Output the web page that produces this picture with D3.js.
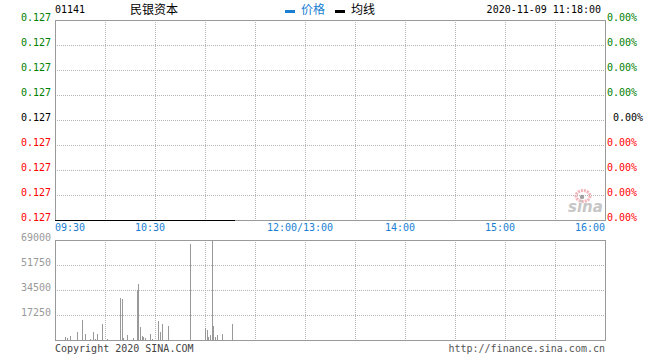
<!DOCTYPE html>
<html>
<head>
<meta charset="utf-8">
<script src="https://cdn.jsdelivr.net/npm/d3@7"></script>
<style>
    body { margin: 0; background: #fff; }
    svg text { font-family: "DejaVu Sans Mono", monospace; font-size: 10px; }
</style>
</head>
<body>
<svg id="chart" width="660" height="360"></svg>
<script>
// header
const STOCK_CODE = '01141';
const STOCK_NAME = '民银资本';
const TIME_STAMP = '2020-11-09 11:18:00';

// left / right tick labels, top to bottom
let priceLabels = ['0.127', '0.127', '0.127', '0.127', '0.127', '0.127', '0.127', '0.127', '0.127'];
let pctLabels = ['0.00%', '0.00%', '0.00%', '0.00%', '0.00%', '0.00%', '0.00%', '0.00%', '0.00%'];
let timeLabels = ['09:30', '10:30', '12:00/13:00', '14:00', '15:00', '16:00'];
let timeLabelAt = ['09:30', '10:30', '12:00', '14:00', '15:00', '16:00'];
let gridTimes = ['10:00', '10:30', '11:00', '11:30', '12:00', '13:30', '14:00', '14:30', '15:00', '15:30'];
let volTicks = [17250, 34500, 51750, 69000];

// price and average line (flat all morning)
let priceTimes = ['09:30', '11:18'];
let priceValues = [0.127, 0.127];
let avgValues = [0.127, 0.127];

// minute volumes
let volTimes = ['09:36', '09:37', '09:39', '09:43', '09:46', '09:48', '09:51', '09:53', '09:54', '09:55',
    '09:58', '10:01', '10:09', '10:10', '10:11', '10:13', '10:17', '10:19', '10:20', '10:21',
    '10:22', '10:23', '10:24', '10:27', '10:28', '10:32', '10:33', '10:34', '10:38', '10:51',
    '11:00', '11:01', '11:02', '11:03', '11:04', '11:05', '11:06', '11:07', '11:10', '11:16'];
let volValues = [2000, 1400, 2800, 5500, 13800, 4100, 700, 5500, 700, 4100,
    11000, 700, 29000, 28300, 1400, 3500, 1400, 34500, 38600, 9000,
    2800, 2100, 1400, 4100, 700, 13100, 5500, 11000, 9700, 66200,
    8300, 6900, 2100, 3500, 68300, 9700, 2100, 3500, 4100, 11000];

const GRID = '#b4b4b4';
const BORDER = '#9a9a9a';
const BLUE = '#1a7fd2';

function toMin(t) {
    let p = t.split(':');
    return +p[0] * 60 + +p[1];
}

let svg = d3.select('#chart');
let left = 55, right = 605;

// lunch break collapses to one point
let x = d3.scaleLinear()
    .domain([toMin('09:30'), toMin('12:00'), toMin('13:00'), toMin('16:00')])
    .range([left, 305, 305, right]);
let yGrid = d3.scaleLinear().domain([0, priceLabels.length - 1]).range([20, 220]);
let yPrice = d3.scaleLinear().domain([0.127, 0.128]).range([220, 20]);
let yVol = d3.scaleLinear().domain([0, 69000]).range([340, 240]);

let px = (v) => Math.round(v) + 0.5;

// ---- header
svg.append('text').attr('x', 55).attr('y', 13).attr('fill', '#000').text(STOCK_CODE);
svg.append('text').attr('x', 130).attr('y', 14)
    .style('font-family', '"Noto Sans CJK SC", sans-serif').style('font-size', '12px')
    .attr('fill', '#000').text(STOCK_NAME);
svg.append('rect').attr('x', 285).attr('y', 10).attr('width', 10).attr('height', 3).attr('fill', BLUE);
svg.append('text').attr('x', 301).attr('y', 14)
    .style('font-family', '"Noto Sans CJK SC", sans-serif').style('font-size', '12px')
    .attr('fill', BLUE).text('价格');
svg.append('rect').attr('x', 335).attr('y', 10).attr('width', 10).attr('height', 3).attr('fill', '#000');
svg.append('text').attr('x', 351).attr('y', 14)
    .style('font-family', '"Noto Sans CJK SC", sans-serif').style('font-size', '12px')
    .attr('fill', '#000').text('均线');
svg.append('text').attr('x', 601).attr('y', 13).attr('text-anchor', 'end').attr('fill', '#000').text(TIME_STAMP);

// ---- grids
function drawGrid(top, bottom, rows) {
    let g = svg.append('g');
    g.selectAll('line.v').data(gridTimes).enter().append('line')
        .attr('x1', (d) => px(x(toMin(d)))).attr('x2', (d) => px(x(toMin(d))))
        .attr('y1', top).attr('y2', bottom)
        .attr('stroke', GRID).attr('stroke-dasharray', '1,1');
    g.selectAll('line.h').data(rows).enter().append('line')
        .attr('x1', left).attr('x2', right)
        .attr('y1', (d) => d + 0.5).attr('y2', (d) => d + 0.5)
        .attr('stroke', GRID).attr('stroke-dasharray', '1,1');
    g.append('rect').attr('x', left + 0.5).attr('y', top + 0.5)
        .attr('width', right - left).attr('height', bottom - top)
        .attr('fill', 'none').attr('stroke', BORDER);
}

drawGrid(20, 220, d3.range(1, priceLabels.length - 1).map((i) => yGrid(i)));
drawGrid(240, 340, volTicks.slice(0, 3).map((v) => yVol(v)));

// ---- left / right labels
let mid = (priceLabels.length - 1) / 2;
let labelColor = (i) => i < mid ? '#008000' : (i === mid ? '#000' : '#ff0000');

svg.selectAll('text.price').data(priceLabels).enter().append('text')
    .attr('x', 51).attr('y', (d, i) => yGrid(i) + 1)
    .attr('text-anchor', 'end').attr('fill', (d, i) => labelColor(i))
    .text((d) => d);

svg.selectAll('text.pct').data(pctLabels).enter().append('text')
    .attr('x', (d, i) => i === mid ? 613 : 607).attr('y', (d, i) => yGrid(i) + 1)
    .attr('fill', (d, i) => labelColor(i))
    .text((d) => d);

// ---- time labels
svg.selectAll('text.time').data(timeLabels).enter().append('text')
    .attr('x', (d, i) => {
        let xx = x(toMin(timeLabelAt[i]));
        if (i === 0 || i === timeLabels.length - 1) return xx;
        return xx - 5;
    })
    .attr('y', 231)
    .attr('text-anchor', (d, i) => i === 0 ? 'start' : (i === timeLabels.length - 1 ? 'end' : 'middle'))
    .attr('fill', BLUE)
    .text((d) => d);

// ---- volume labels
svg.selectAll('text.vol').data([0].concat(volTicks)).enter().append('text')
    .filter((d) => d > 0)
    .attr('x', 51).attr('y', (d) => yVol(d) + 1)
    .attr('text-anchor', 'end').attr('fill', '#999')
    .text((d) => d);

// ---- sina watermark
let logo = svg.append('g').attr('opacity', 0.8);
logo.append('ellipse').attr('cx', 583).attr('cy', 196).attr('rx', 7).attr('ry', 5.5)
    .attr('fill', 'none').attr('stroke', '#f2a0a8').attr('stroke-width', 3).attr('stroke-dasharray', '2,1');
logo.append('circle').attr('cx', 582).attr('cy', 197).attr('r', 2.2).attr('fill', '#8c8c8c');
logo.append('text').attr('x', 568).attr('y', 212)
    .style('font-family', '"DejaVu Sans", sans-serif').style('font-size', '15px')
    .style('font-weight', 'bold').style('font-style', 'italic')
    .attr('fill', '#b8b8b8').text('sina');

// ---- price + average lines
let line = (vals) => d3.line()
    .x((d, i) => x(toMin(priceTimes[i])))
    .y((d) => Math.round(yPrice(d)) + 0.5)(vals);

svg.append('path').attr('d', line(priceValues)).attr('fill', 'none').attr('stroke', BLUE).attr('stroke-width', 1);
svg.append('path').attr('d', line(avgValues)).attr('fill', 'none').attr('stroke', '#000').attr('stroke-width', 1);

// ---- volume bars
svg.selectAll('line.bar').data(volValues).enter().append('line')
    .attr('x1', (d, i) => px(x(toMin(volTimes[i]))))
    .attr('x2', (d, i) => px(x(toMin(volTimes[i]))))
    .attr('y1', 340).attr('y2', (d) => Math.round(yVol(d)))
    .attr('stroke', '#999').attr('stroke-width', 1);

// ---- footer
svg.append('text').attr('x', 55).attr('y', 352).attr('fill', '#444').text('Copyright 2020 SINA.COM');
svg.append('text').attr('x', 605).attr('y', 352).attr('text-anchor', 'end').attr('fill', '#555')
    .text('http://finance.sina.com.cn');
</script>
</body>
</html>
